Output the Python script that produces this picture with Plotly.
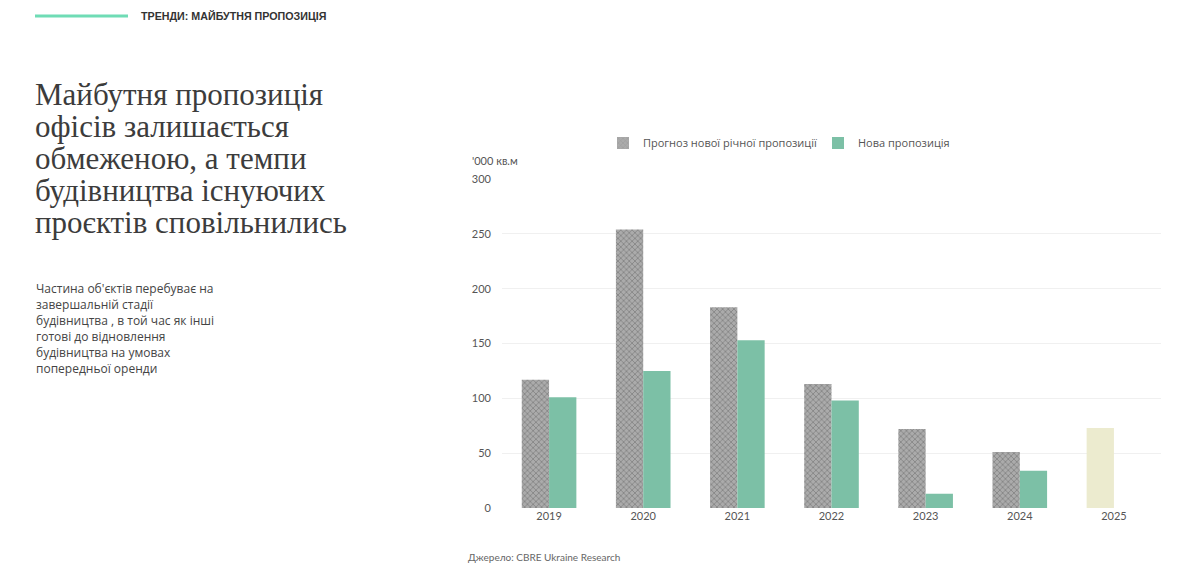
import plotly.graph_objects as go

years = ["2019", "2020", "2021", "2022", "2023", "2024", "2025"]
forecast = [117, 254, 183, 113, 72, 51, 73]
new_supply = [101, 125, 153, 98, 13, 34, None]
forecast_colors = ["#ababab"] * 6 + ["#ecebcf"]
forecast_patterns = ["x"] * 6 + [""]
y_ticks = [0, 50, 100, 150, 200, 250, 300]

title_lines = ["Майбутня пропозиція", "офісів залишається", "обмеженою, а темпи",
               "будівництва існуючих", "проєктів сповільнились"]
body_lines = ["Частина об'єктів перебуває на", "завершальній стадії",
              "будівництва , в той час як інші", "готові до відновлення",
              "будівництва на умовах", "попередньої оренди"]

W, H = 1200, 569
L, R, T, B = 502, 39, 179, 61
PW, PH = W - L - R, H - T - B


def px(x):
    return (x - L) / PW


def py(y):
    return (H - B - y) / PH


fig = go.Figure()
fig.add_trace(go.Bar(
    x=years, y=forecast, name="Прогноз нової річної пропозиції", legend="legend",
    marker=dict(color=forecast_colors, line=dict(width=0),
                pattern=dict(shape=forecast_patterns, fillmode="overlay",
                             fgcolor="#8a8a8a", size=4, solidity=0.3)),
))
fig.add_trace(go.Bar(
    x=years, y=new_supply, name="Нова пропозиція", legend="legend2",
    marker=dict(color="#7cc0a6", line=dict(width=0)),
))

legend_font = dict(family="Open Sans, sans-serif", size=11, color="#555555")
fig.update_layout(
    width=W, height=H,
    margin=dict(l=L, r=R, t=T, b=B),
    paper_bgcolor="white", plot_bgcolor="white",
    barmode="group", bargap=0.42, bargroupgap=0,
    font=dict(family="Lato, Open Sans, sans-serif", size=11, color="#555555"),
    showlegend=True,
    legend=dict(orientation="h", x=px(603), y=py(143), xanchor="left", yanchor="middle",
                font=legend_font, bgcolor="rgba(0,0,0,0)"),
    legend2=dict(orientation="h", x=px(818), y=py(143), xanchor="left", yanchor="middle",
                 font=legend_font, bgcolor="rgba(0,0,0,0)"),
    xaxis=dict(showgrid=False, showline=False, zeroline=False, ticks="",
               tickfont=dict(size=11, color="#555555")),
    yaxis=dict(range=[0, 300], tickvals=y_ticks, showgrid=True, gridcolor="#f0f0f0",
               gridwidth=1, zeroline=False, showline=False, ticks="",
               tickfont=dict(size=11, color="#555555"), ticklabelstandoff=10),
)

# header line and label
fig.add_shape(type="line", xref="paper", yref="paper",
              x0=px(35), x1=px(128), y0=py(16), y1=py(16),
              line=dict(color="#6fdcb5", width=3))
fig.add_annotation(xref="paper", yref="paper", x=px(139), y=py(16),
                   xanchor="left", yanchor="middle", showarrow=False,
                   text="<b>ТРЕНДИ: МАЙБУТНЯ ПРОПОЗИЦІЯ</b>",
                   font=dict(family="Liberation Sans, Arial", size=10.7, color="#333333"))

# main title (serif), one annotation per line
for i, line in enumerate(title_lines):
    fig.add_annotation(xref="paper", yref="paper", x=px(33), y=py(94 + i * 32),
                       xanchor="left", yanchor="middle", showarrow=False, text=line,
                       font=dict(family="Liberation Serif, Times New Roman, serif",
                                 size=31, color="#3c3c3c"))

for i, line in enumerate(body_lines):
    fig.add_annotation(xref="paper", yref="paper", x=px(34), y=py(288 + i * 16),
                       xanchor="left", yanchor="middle", showarrow=False, text=line,
                       font=dict(family="Open Sans, sans-serif", size=12, color="#444444"))

fig.add_annotation(xref="paper", yref="paper", x=px(470), y=py(160),
                   xanchor="left", yanchor="middle", showarrow=False,
                   text="'000 кв.м", font=dict(size=11, color="#555555"))

fig.add_annotation(xref="paper", yref="paper", x=px(466), y=py(557),
                   xanchor="left", yanchor="middle", showarrow=False,
                   text="Джерело: CBRE Ukraine Research", font=dict(size=10, color="#666666"))

fig.write_html("out.html")
